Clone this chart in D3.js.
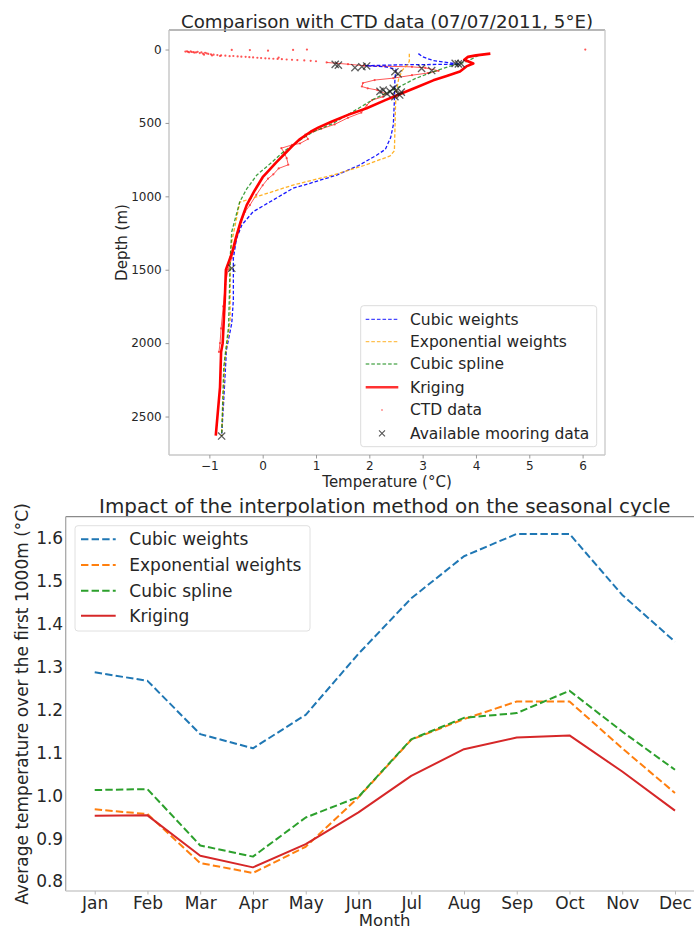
<!DOCTYPE html>
<html><head><meta charset="utf-8">
<script src="https://cdn.jsdelivr.net/npm/d3@7/dist/d3.min.js"></script>
<style>
body{margin:0;background:#fff}
svg{display:block;background:#fff}
text{font-family:"DejaVu Sans",sans-serif;fill:#262626}
</style>
</head><body>
<svg id="c" width="694" height="929"></svg>
<script>
// ---------------- TOP CHART DATA (temperature °C, depth m) ----------------
const depthTicks = [0, 500, 1000, 1500, 2000, 2500];
const tempTicks = [-1, 0, 1, 2, 3, 4, 5, 6];

const cubicWeightsT = [2.92, 3.0, 3.2, 3.7, 2.6, 1.93, 2.3, 2.5, 2.48, 2.47, 2.45, 2.4, 2.3, 2.14, 1.8, 1.39, 0.9, 0.57, 0.14, -0.18, -0.39, -0.49, -0.55, -0.55, -0.58, -0.68, -0.73, -0.77];
const cubicWeightsD = [28, 50, 75, 100, 104, 110, 118, 135, 200, 350, 514, 600, 680, 719, 790, 855, 910, 945, 1037, 1105, 1195, 1286, 1422, 1706, 1865, 2047, 2388, 2633];

const expWeightsT = [2.75, 2.75, 2.7, 2.62, 2.55, 2.5, 2.49, 2.48, 2.47, 2.39, 1.9, 1.32, 0.57, -0.43, -0.49, -0.58, -0.61, -0.61, -0.71, -0.77];
const expWeightsD = [28, 80, 110, 140, 200, 300, 400, 550, 690, 725, 790, 855, 923, 1040, 1150, 1309, 1422, 1843, 2115, 2633];

const cubicSplineT = [4.05, 3.82, 3.5, 3.2, 2.85, 2.57, 2.07, 1.8, 1.32, 0.95, 0.7, 0.39, 0.15, -0.11, -0.3, -0.43, -0.58, -0.61, -0.62, -0.64, -0.73, -0.77];
const cubicSplineD = [40, 83, 115, 151, 200, 253, 340, 400, 503, 560, 617, 696, 775, 855, 950, 1037, 1241, 1422, 1600, 1888, 2161, 2633];

const krigingT = [4.27, 4.0, 3.85, 3.78, 3.95, 3.82, 3.7, 3.45, 3.2, 2.9, 2.6, 2.3, 1.95, 1.6, 1.3, 1.05, 0.9, 0.7, 0.55, 0.4, 0.25, 0.1, 0.0, -0.15, -0.3, -0.42, -0.5, -0.57, -0.64, -0.69, -0.71, -0.75, -0.78, -0.8, -0.88];
const krigingD = [28, 40, 50, 70, 95, 115, 150, 180, 210, 255, 300, 345, 400, 445, 490, 530, 560, 610, 660, 715, 770, 830, 870, 960, 1060, 1180, 1280, 1380, 1450, 1500, 1700, 2000, 2060, 2300, 2630];

const ctdSurfaceT = [-1.45, -1.42, -1.40, -1.38, -1.35, -1.33, -1.30, -1.28, -1.25, -1.22, -1.18, -1.15, -1.12, -1.08, -1.05, -1.02, -0.97, -0.92, -0.85, -0.78, -0.70, -0.62, -0.55, -0.47, -0.40, -0.32, -0.25, -0.18, -0.10, -0.03, 0.05, 0.12, 0.20, 0.28, 0.36, 0.45, 0.55, 0.65, 0.78, 0.90, 1.00, -0.58, -0.24, 0.57, 0.83, 0.10, -1.10, -0.95, -0.80, 0.30, 6.05];
const ctdSurfaceD = [14, 12, 16, 19, 13, 17, 18, 21, 20, 16, 24, 19, 28, 22, 26, 30, 33, 35, 38, 40, 42, 45, 44, 47, 49, 50, 52, 54, 56, 58, 60, 61, 63, 64, 66, 68, 70, 72, 74, 77, 80, 3, 4, 3, 0, 8, 35, 40, 44, 55, 0];

const ctdProfileT = [1.2, 1.6, 1.9, 2.3, 2.8, 3.05, 3.3, 3.1, 2.8, 2.45, 2.1, 1.88, 1.86, 1.97, 2.15, 2.3, 2.25, 2.05, 1.95, 1.85, 1.6, 1.35, 1.1, 0.95, 0.8, 0.85, 0.7, 0.55, 0.35, 0.4, 0.45, 0.48, 0.3, 0.2, 0.1, 0.0, -0.12, -0.24, -0.33, -0.4, -0.45, -0.52, -0.58, -0.65, -0.7, -0.74, -0.78, -0.8, -0.82];
const ctdProfileD = [88, 100, 110, 114, 118, 125, 145, 160, 175, 195, 208, 228, 252, 264, 276, 300, 322, 345, 380, 430, 465, 510, 540, 560, 580, 610, 640, 650, 672, 700, 740, 785, 810, 850, 880, 925, 990, 1060, 1105, 1175, 1240, 1330, 1420, 1500, 1600, 1750, 1900, 2000, 2060];

const mooringT = [1.36, 1.42, 1.73, 1.86, 1.95, 2.48, 2.54, 2.98, 3.17, 3.61, 3.67, 3.72, 2.26, 2.39, 2.51, 2.57, 2.48, 2.33, 2.45, 2.2, 2.6, -0.58, -0.77];
const mooringD = [101, 106, 124, 117, 112, 151, 166, 128, 143, 94, 98, 96, 276, 287, 276, 310, 321, 300, 265, 285, 290, 1490, 2633];

const topLegendLabels = ["Cubic weights", "Exponential weights", "Cubic spline", "Kriging", "CTD data", "Available mooring data"];

// ---------------- BOTTOM CHART DATA ----------------
const months = ["Jan", "Feb", "Mar", "Apr", "May", "Jun", "Jul", "Aug", "Sep", "Oct", "Nov", "Dec"];
const seasonTicks = [0.8, 0.9, 1.0, 1.1, 1.2, 1.3, 1.4, 1.5, 1.6];
const seasonCubicWeights = [1.287, 1.267, 1.143, 1.110, 1.188, 1.330, 1.459, 1.557, 1.609, 1.609, 1.467, 1.358];
const seasonExpWeights   = [0.968, 0.957, 0.843, 0.820, 0.881, 0.996, 1.130, 1.178, 1.219, 1.219, 1.110, 1.006];
const seasonCubicSpline  = [1.013, 1.015, 0.884, 0.858, 0.949, 0.997, 1.131, 1.181, 1.192, 1.244, 1.149, 1.060];
const seasonKriging      = [0.953, 0.954, 0.860, 0.833, 0.887, 0.961, 1.046, 1.108, 1.135, 1.140, 1.056, 0.965];
const bottomLegendLabels = ["Cubic weights", "Exponential weights", "Cubic spline", "Kriging"];

// ---------------- DRAWING ----------------
const svg = d3.select("#c");
const zip = (a, b) => a.map((v, i) => [v, b[i]]);
const minus = d => (d < 0 ? "\u2212" + Math.abs(d) : String(d));

// ===== TOP =====
const T = {l: 169, r: 605, t: 30, b: 455};
const xT = d3.scaleLinear().domain([-1.757, 6.42]).range([T.l, T.r]);
const yD = d3.scaleLinear().domain([-133, 2762]).range([T.t, T.b]);

svg.append("text").attr("x", 387).attr("y", 28).attr("text-anchor", "middle")
  .style("font-size", "18.2px").text("Comparison with CTD data (07/07/2011, 5°E)");

const gTop = svg.append("g");
gTop.append("line").attr("x1", T.l).attr("x2", T.r).attr("y1", T.t).attr("y2", T.t).attr("stroke", "#a0a0a0").attr("stroke-width", 1.3);
gTop.append("line").attr("x1", T.l).attr("x2", T.l).attr("y1", T.t).attr("y2", T.b).attr("stroke", "#c0c0c0").attr("stroke-width", 1.3);
gTop.append("line").attr("x1", T.r).attr("x2", T.r).attr("y1", T.t).attr("y2", T.b).attr("stroke", "#c8c8c8").attr("stroke-width", 1.3);
gTop.append("line").attr("x1", T.l).attr("x2", T.r).attr("y1", T.b).attr("y2", T.b).attr("stroke", "#c8c8c8").attr("stroke-width", 1.3);

const axXT = svg.append("g").attr("transform", `translate(0,${T.b})`)
  .call(d3.axisBottom(xT).tickValues(tempTicks).tickFormat(minus).tickSize(3.5).tickSizeOuter(0).tickPadding(3));
const axYT = svg.append("g").attr("transform", `translate(${T.l},0)`)
  .call(d3.axisLeft(yD).tickValues(depthTicks).tickFormat(d => String(d)).tickSize(3.5).tickSizeOuter(0).tickPadding(3.8));
[axXT, axYT].forEach(a => {
  a.select(".domain").remove();
  a.selectAll(".tick line").attr("stroke", "#999");
  a.selectAll(".tick text").style("font-size", "12px").style("font-family", "DejaVu Sans").attr("fill", "#262626");
});

svg.append("text").attr("x", 387).attr("y", 481.7).attr("dy", "0.35em").attr("text-anchor", "middle")
  .style("font-size", "15px").text("Temperature (°C)");
svg.append("text").attr("transform", "translate(121.7,242.5) rotate(-90)").attr("dy", "0.35em").attr("text-anchor", "middle")
  .style("font-size", "15px").text("Depth (m)");

const lineT = d3.line().x(d => xT(d[0])).y(d => yD(d[1]));

// CTD data
const ctdG = svg.append("g");
ctdG.append("path").datum(zip(ctdProfileT, ctdProfileD)).attr("d", lineT)
  .attr("fill", "none").attr("stroke", "#ff2020").attr("stroke-width", 1).attr("opacity", 0.75);
ctdG.selectAll("circle.p").data(zip(ctdProfileT, ctdProfileD)).join("circle")
  .attr("cx", d => xT(d[0])).attr("cy", d => yD(d[1])).attr("r", 1.1).attr("fill", "#ff3030").attr("opacity", 0.8);
ctdG.selectAll("circle.s").data(zip(ctdSurfaceT, ctdSurfaceD)).join("circle").attr("class", "s")
  .attr("cx", d => xT(d[0])).attr("cy", d => yD(d[1])).attr("r", 1.1).attr("fill", "#ff2a2a").attr("opacity", 0.8);

const topSeries = [
  {T: cubicWeightsT, D: cubicWeightsD, color: "#0000ff", w: 1.3, dash: "3.6,2", op: 0.9},
  {T: expWeightsT, D: expWeightsD, color: "#ffa500", w: 1.3, dash: "3.6,2", op: 0.85},
  {T: cubicSplineT, D: cubicSplineD, color: "#008000", w: 1.3, dash: "3.6,2", op: 0.75},
  {T: krigingT, D: krigingD, color: "#ff0000", w: 2.6, dash: null, op: 1}
];
topSeries.forEach(s => {
  svg.append("path").datum(zip(s.T, s.D)).attr("d", lineT).attr("fill", "none")
    .attr("stroke", s.color).attr("stroke-width", s.w).attr("stroke-dasharray", s.dash)
    .attr("opacity", s.op).attr("stroke-linejoin", "round");
});

const xMark = "M-3.6,-3.6L3.6,3.6M-3.6,3.6L3.6,-3.6";
svg.append("g").selectAll("path").data(zip(mooringT, mooringD)).join("path")
  .attr("transform", d => `translate(${xT(d[0])},${yD(d[1])})`).attr("d", xMark)
  .attr("stroke", "#1a1a1a").attr("stroke-width", 1.3).attr("opacity", 0.7).attr("fill", "none");

// top legend
const lgT = svg.append("g");
lgT.append("rect").attr("x", 360.7).attr("y", 305.7).attr("width", 236).attr("height", 141).attr("rx", 3)
  .attr("fill", "#fff").attr("fill-opacity", 0.85).attr("stroke", "#dcdcdc").attr("stroke-width", 1);
const rowsT = [319.3, 341.7, 364, 387.3, 410, 433.3];
topLegendLabels.forEach((lab, i) => {
  const y = rowsT[i];
  if (i < 4) {
    const s = topSeries[i];
    lgT.append("line").attr("x1", 365.7).attr("x2", 398.3).attr("y1", y).attr("y2", y)
      .attr("stroke", s.color).attr("stroke-width", s.w).attr("stroke-dasharray", s.dash).attr("opacity", s.op * 0.8);
  } else if (i === 4) {
    lgT.append("circle").attr("cx", 382).attr("cy", y).attr("r", 1).attr("fill", "#ff9090");
  } else {
    lgT.append("path").attr("transform", `translate(382,${y})`).attr("d", "M-3,-3L3,3M-3,3L3,-3")
      .attr("stroke", "#555").attr("stroke-width", 1.1);
  }
  lgT.append("text").attr("x", 410).attr("y", y).attr("dy", "0.35em").style("font-size", "15.5px").text(lab);
});

// ===== BOTTOM =====
const B = {l: 65.7, r: 704, t: 516.7, b: 891};
const xM = d3.scaleLinear().domain([-0.55, 11.55]).range([B.l, B.r]);
const yV = d3.scaleLinear().domain([0.778, 1.649]).range([B.b, B.t]);

svg.append("text").attr("x", 384.8).attr("y", 513).attr("text-anchor", "middle")
  .style("font-size", "19.9px").text("Impact of the interpolation method on the seasonal cycle");

svg.append("line").attr("x1", B.l).attr("x2", B.r).attr("y1", B.t).attr("y2", B.t).attr("stroke", "#8a8a8a").attr("stroke-width", 1.3);
svg.append("line").attr("x1", B.l).attr("x2", B.l).attr("y1", B.t).attr("y2", B.b).attr("stroke", "#a8a8a8").attr("stroke-width", 1.3);
svg.append("line").attr("x1", B.l).attr("x2", B.r).attr("y1", B.b).attr("y2", B.b).attr("stroke", "#cccccc").attr("stroke-width", 1.3);

const axXB = svg.append("g").attr("transform", `translate(0,${B.b})`)
  .call(d3.axisBottom(xM).tickValues(d3.range(months.length)).tickFormat(i => months[i]).tickSize(3.5).tickSizeOuter(0).tickPadding(2.5));
const axYB = svg.append("g").attr("transform", `translate(${B.l},0)`)
  .call(d3.axisLeft(yV).tickValues(seasonTicks).tickFormat(d3.format(".1f")).tickSize(0).tickSizeOuter(0).tickPadding(2.5));
[axXB, axYB].forEach(a => {
  a.select(".domain").remove();
  a.selectAll(".tick line").attr("stroke", "#bbb");
  a.selectAll(".tick text").style("font-size", "17px").style("font-family", "DejaVu Sans").attr("fill", "#262626");
});

svg.append("text").attr("x", 384.7).attr("y", 920).attr("dy", "0.35em").attr("text-anchor", "middle")
  .style("font-size", "16.5px").text("Month");
svg.append("text").attr("transform", "translate(22,704) rotate(-90)").attr("dy", "0.35em").attr("text-anchor", "middle")
  .style("font-size", "17px").text("Average temperature over the first 1000m (°C)");

const bottomSeries = [
  {v: seasonCubicWeights, color: "#1f77b4", dash: "7.4,3.2"},
  {v: seasonExpWeights, color: "#ff7f0e", dash: "7.4,3.2"},
  {v: seasonCubicSpline, color: "#2ca02c", dash: "7.4,3.2"},
  {v: seasonKriging, color: "#d62728", dash: null}
];
const lineB = d3.line().x((d, i) => xM(i)).y(d => yV(d));
bottomSeries.forEach(s => {
  svg.append("path").datum(s.v).attr("d", lineB).attr("fill", "none")
    .attr("stroke", s.color).attr("stroke-width", 2).attr("stroke-dasharray", s.dash).attr("stroke-linejoin", "round");
});

const lgB = svg.append("g");
lgB.append("rect").attr("x", 75).attr("y", 525.7).attr("width", 235).attr("height", 105.3).attr("rx", 3)
  .attr("fill", "#fff").attr("fill-opacity", 0.85).attr("stroke", "#e0e0e0").attr("stroke-width", 1);
const rowsB = [539.3, 565, 590.7, 615.7];
bottomLegendLabels.forEach((lab, i) => {
  const y = rowsB[i], s = bottomSeries[i];
  lgB.append("line").attr("x1", 81).attr("x2", 115.7).attr("y1", y).attr("y2", y)
    .attr("stroke", s.color).attr("stroke-width", 2).attr("stroke-dasharray", s.dash);
  lgB.append("text").attr("x", 129.3).attr("y", y).attr("dy", "0.35em").style("font-size", "17px").text(lab);
});
</script>
</body></html>
